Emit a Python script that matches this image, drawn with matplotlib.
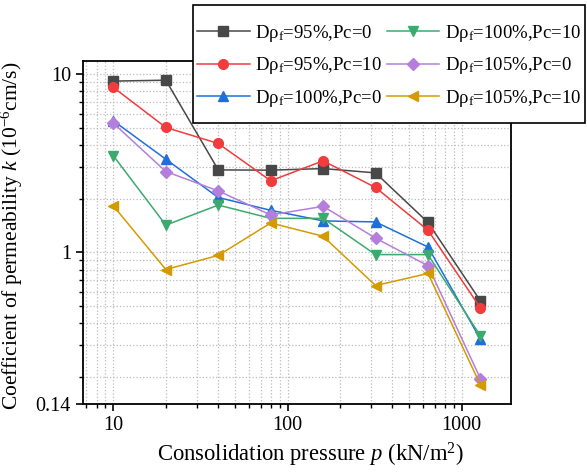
import matplotlib
matplotlib.use("Agg")
import matplotlib.pyplot as plt
from matplotlib.path import Path
from matplotlib.ticker import NullFormatter, LogLocator, FixedLocator, FixedFormatter

plt.rcParams['font.family'] = ['Liberation Serif', 'DejaVu Serif']
plt.rcParams['mathtext.fontset'] = 'custom'
plt.rcParams['mathtext.rm'] = 'Liberation Serif'
plt.rcParams['mathtext.it'] = 'Liberation Serif:italic'

# consolidation pressure (kN/m2)
p = [10, 20, 40, 80, 160, 320, 640, 1280]

# permeability k (1e-6 cm/s)
k95_0 = [9.14, 9.25, 2.90, 2.89, 2.95, 2.79, 1.47, 0.533]
k95_10 = [8.42, 5.02, 4.08, 2.52, 3.26, 2.31, 1.33, 0.487]
k100_0 = [5.47, 3.33, 2.03, 1.72, 1.50, 1.48, 1.07, 0.325]
k100_10 = [3.48, 1.42, 1.84, 1.55, 1.55, 0.97, 0.97, 0.339]
k105_0 = [5.30, 2.84, 2.21, 1.62, 1.81, 1.20, 0.84, 0.195]
k105_10 = [1.82, 0.80, 0.96, 1.46, 1.23, 0.65, 0.76, 0.180]

labels = ['D\u03c1$_{\\mathrm{f}}$=95%,Pc=0', 'D\u03c1$_{\\mathrm{f}}$=95%,Pc=10',
          'D\u03c1$_{\\mathrm{f}}$=100%,Pc=0', 'D\u03c1$_{\\mathrm{f}}$=100%,Pc=10',
          'D\u03c1$_{\\mathrm{f}}$=105%,Pc=0', 'D\u03c1$_{\\mathrm{f}}$=105%,Pc=10']
series = [k95_0, k95_10, k100_0, k100_10, k105_0, k105_10]
colors = ['#484848', '#F03C3C', '#1F6FDB', '#3CAA6E', '#B57EDC', '#D49B00']
markers = ['s', 'o', '^', 'v', 'D', '<']
msizes = [6.5, 7, 7.5, 7.5, 6, 7.5]

xticks = [10, 100, 1000]
xticklabels = ['10', '100', '1000']
yticks = [0.14, 1, 10]
yticklabels = ['0.14', '1', '10']

fig = plt.figure(figsize=(5.87, 4.72), dpi=100)
ax = fig.add_axes([0.141, 0.1434, 0.729, 0.728])

for y, c, m, ms, lab in zip(series, colors, markers, msizes, labels):
    ax.plot(p, y, color=c, marker=m, markersize=ms, lw=1.1, label=lab)

ax.set_xscale('log')
ax.set_yscale('log')
ax.set_xlim(6.67, 1910)
ax.set_ylim(0.14, 11.9)

ax.xaxis.set_major_locator(FixedLocator(xticks))
ax.xaxis.set_major_formatter(FixedFormatter(xticklabels))
ax.xaxis.set_minor_locator(LogLocator(base=10, subs=range(2, 10)))
ax.xaxis.set_minor_formatter(NullFormatter())
ax.yaxis.set_major_locator(FixedLocator(yticks))
ax.yaxis.set_major_formatter(FixedFormatter(yticklabels))
ax.yaxis.set_minor_locator(LogLocator(base=10, subs=range(2, 10)))
ax.yaxis.set_minor_formatter(NullFormatter())

ax.tick_params(which='major', direction='out', length=5, width=1.2, labelsize=14.5)
ax.tick_params(which='minor', direction='out', length=3, width=1.0)
for s in ax.spines.values():
    s.set_linewidth(1.3)

ax.grid(True, which='both', linestyle=':', color='#bbbbbb', lw=0.9)
ax.set_axisbelow(True)

ax.set_xlabel('Consolidation pressure $\\mathit{p}$ (kN/m$^{2}$)', fontsize=16.3)
ax.xaxis.set_label_coords(0.532, -0.105)
ax.set_ylabel('Coefficient of permeability $\\mathit{k}$ (10$^{-6}$cm/s)', fontsize=15.5)
ax.yaxis.set_label_coords(-0.135, 0.49)

# legend frame: thin side padding, taller top/bottom padding
def tall_box(x0, y0, width, height, mutation_size):
    top, bot = 14, 10
    return Path([(x0, y0 - bot), (x0 + width, y0 - bot), (x0 + width, y0 + height + top),
                 (x0, y0 + height + top), (x0, y0 - bot)], closed=True)

leg = ax.legend(ncol=2, loc='upper right', bbox_to_anchor=(585 / 587, 1 - 19 / 472),
                bbox_transform=fig.transFigure, fontsize=13.5, fancybox=False,
                framealpha=1, edgecolor='black', handlelength=2.8,
                columnspacing=0.25, handletextpad=0.3, borderpad=0.2,
                borderaxespad=0, labelspacing=0.62)
leg.get_frame().set_boxstyle(tall_box)
leg.get_frame().set_linewidth(1.2)

fig.savefig('out.png', dpi=100)
